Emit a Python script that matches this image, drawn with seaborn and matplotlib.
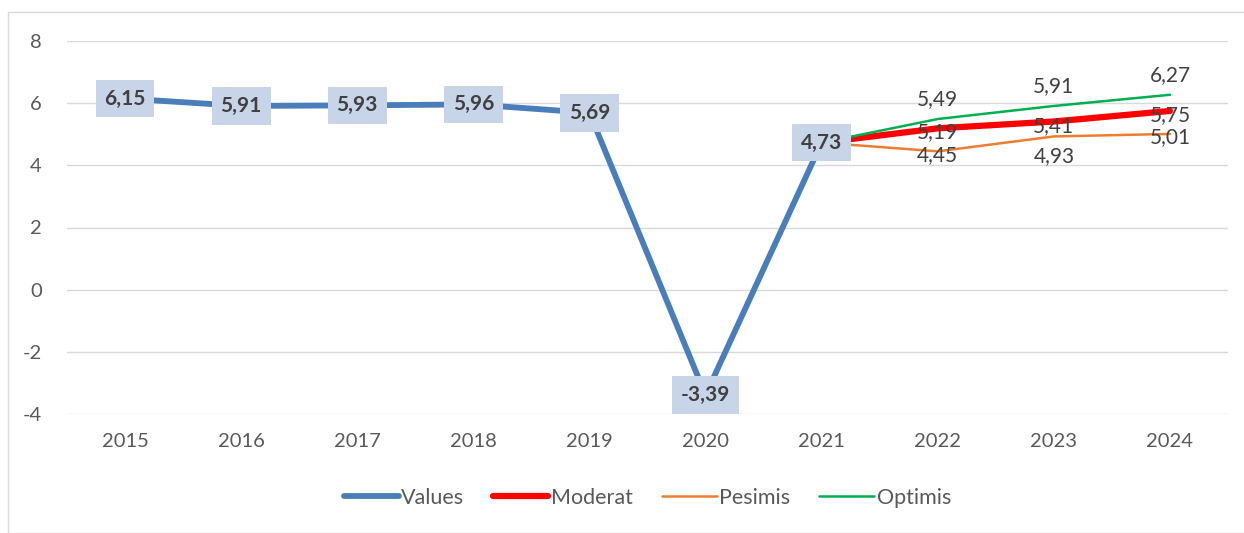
import numpy as np
import pandas as pd
import seaborn as sns
import matplotlib.pyplot as plt
from matplotlib.patches import Rectangle

years = [2015, 2016, 2017, 2018, 2019, 2020, 2021]
values = [6.15, 5.91, 5.93, 5.96, 5.69, -3.39, 4.73]

scen_years = [2021, 2022, 2023, 2024]
moderat = [4.73, 5.19, 5.41, 5.75]
pesimis = [4.73, 4.45, 4.93, 5.01]
optimis = [4.73, 5.49, 5.91, 6.27]

all_years = list(range(2015, 2025))

sns.set_theme(style="white")
plt.rcParams["font.family"] = ["Lato", "DejaVu Sans"]
plt.rcParams["axes.unicode_minus"] = False

fig = plt.figure(figsize=(12.44, 5.33), dpi=100)
ax = fig.add_axes([67 / 1244, 1 - 414 / 533, (1228 - 67) / 1244, (414 - 41) / 533])

# outer chart frame
fig.patches.append(Rectangle((8 / 1244, 0), 1.2, 1 - 12 / 533, transform=fig.transFigure,
                             fill=False, edgecolor="#d9d9d9", linewidth=1))

df_val = pd.DataFrame({"year": years, "v": values})
df_mod = pd.DataFrame({"year": scen_years, "v": moderat})
df_pes = pd.DataFrame({"year": scen_years, "v": pesimis})
df_opt = pd.DataFrame({"year": scen_years, "v": optimis})

sns.lineplot(data=df_val, x="year", y="v", ax=ax, color="#4a7ebb", linewidth=4.2,
             label="Values", solid_capstyle="round")
sns.lineplot(data=df_mod, x="year", y="v", ax=ax, color="#ff0000", linewidth=4.5,
             label="Moderat", solid_capstyle="round")
sns.lineplot(data=df_pes, x="year", y="v", ax=ax, color="#ed7d31", linewidth=1.8,
             label="Pesimis")
sns.lineplot(data=df_opt, x="year", y="v", ax=ax, color="#00b050", linewidth=1.8,
             label="Optimis")

fmt = lambda v: f"{v:.2f}".replace(".", ",")

# boxed labels on the history series
for x, v in zip(years, values):
    ax.annotate(fmt(v), (x, v), ha="center", va="center", fontsize=15, fontweight="bold",
                color="#404040", zorder=5,
                bbox=dict(boxstyle="square,pad=0.42", facecolor="#c8d5e8", edgecolor="none"))

# scenario labels (skip 2021, shared with Values)
for x, v in zip(scen_years[1:], moderat[1:]):
    ax.annotate(fmt(v), (x, v), xytext=(0, -3), textcoords="offset points",
                ha="center", va="center", fontsize=15, color="#404040")
for x, v in zip(scen_years[1:], optimis[1:]):
    ax.annotate(fmt(v), (x, v), xytext=(0, 14), textcoords="offset points",
                ha="center", va="center", fontsize=15, color="#404040")
pes_off = [-3, -14, -2]
for x, v, o in zip(scen_years[1:], pesimis[1:], pes_off):
    ax.annotate(fmt(v), (x, v), xytext=(0, o), textcoords="offset points",
                ha="center", va="center", fontsize=15, color="#404040")

ax.set_xlim(2014.5, 2024.5)
ax.set_ylim(-4, 8)
ax.set_xticks(all_years)
ax.set_xticklabels([str(y) for y in all_years])
ax.set_yticks(range(-4, 9, 2))
ax.set_xlabel("")
ax.set_ylabel("")
ax.grid(axis="y", color="#d9d9d9", linewidth=1)
ax.set_axisbelow(True)
for s in ax.spines.values():
    s.set_visible(False)
ax.tick_params(axis="both", length=0, labelsize=14.5, labelcolor="#595959")
ax.tick_params(axis="x", pad=14)
ax.tick_params(axis="y", pad=18)

leg = ax.legend(loc="center", bbox_to_anchor=(0.5, -0.225), ncol=4, frameon=False,
                fontsize=15.5, handlelength=2.55, handletextpad=0.12, columnspacing=1.35)
for t in leg.get_texts():
    t.set_color("#595959")

fig.savefig("out.png", dpi=100)
